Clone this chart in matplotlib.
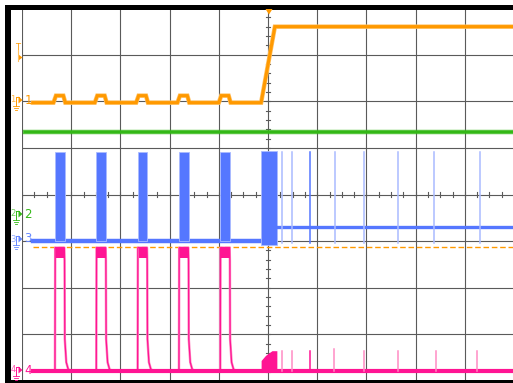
import matplotlib.pyplot as plt
import numpy as np
from matplotlib import patches

pulse_t = [0.67, 1.51, 2.35, 3.19, 4.03]
pulse_w = 0.195
t_start = 0.22

ch1_low, ch1_bump, ch1_high = 1.97, 2.12, 3.60
ch1_rise = [4.86, 5.14]

ch2_level = 1.33

ch3_low, ch3_high, ch3_after = -1.00, 0.92, -0.69
ch3_burst_t = [4.86, 5.18]
ch3_burst = [-1.09, 0.94]
ch3_spikes = [5.28, 5.49, 5.85, 6.36, 6.95, 7.64, 8.37, 9.31]
ch3_spike_lo = -1.05

ch4_low, ch4_high, ch4_shoulder = -3.78, -1.14, -1.42
ch4_tail = [-3.10, -3.60, -3.75, -3.78]
ch4_tail_dt = [0.0, 0.03, 0.07, 0.12]
ch4_burst_t = [4.86, 4.95, 5.08, 5.18]
ch4_burst = [-3.56, -3.45, -3.35, -3.35]
ch4_spikes = [5.28, 5.49, 5.85, 6.34, 6.95, 7.64, 8.42, 9.25]
ch4_spike_top = [-3.35, -3.35, -3.35, -3.31, -3.35, -3.35, -3.35, -3.35]

trig_level = -1.13

ORANGE = "#ff9900"
GREEN = "#33b816"
BLUE = "#5577ff"
LBLUE = "#aabbff"
PINK = "#ff1493"
LPINK = "#ff8cc4"
GRID = "#5a5a5a"

W, H = 513, 383
fig = plt.figure(figsize=(W / 100, H / 100), dpi=100)
fig.patch.set_facecolor("white")
ax = fig.add_axes([22 / W, 2 / H, 492 / W, 373 / H])
ax.set_xlim(0, 10)
ax.set_ylim(-4, 4)
ax.axis("off")

# graticule
for x in range(11):
    ax.plot([x, x], [-4, 4], color=GRID, lw=0.8, zorder=1)
for y in range(-4, 5):
    ax.plot([0, 10], [y, y], color=GRID, lw=0.8, zorder=1)
for x in np.arange(0, 10.01, 0.25):
    ax.plot([x, x], [-0.05, 0.05], color=GRID, lw=0.8, zorder=1)
for y in np.arange(-4, 4.01, 0.2):
    ax.plot([4.95, 5.05], [y, y], color=GRID, lw=0.8, zorder=1)

# channel 2
ax.plot([0.06, 10], [ch2_level, ch2_level], color=GREEN, lw=3.2, alpha=0.8, zorder=3)
ax.plot([0.06, 10], [ch2_level, ch2_level], color=GREEN, lw=1.6, zorder=3)

# channel 1
t1 = [t_start]
v1 = [ch1_low]
for p in pulse_t:
    t1 += [p - 0.03, p + 0.02, p + 0.17, p + 0.21]
    v1 += [ch1_low, ch1_bump, ch1_bump, ch1_low]
t1 += [ch1_rise[0], ch1_rise[1], 10]
v1 += [ch1_low, ch1_high, ch1_high]
ax.plot(t1, v1, color="#ffc060", lw=3.2, zorder=4, solid_joinstyle="miter")
ax.plot(t1, v1, color=ORANGE, lw=2.2, zorder=4, solid_joinstyle="miter")

# channel 3
ax.plot([t_start, ch3_burst_t[0]], [ch3_low, ch3_low], color=BLUE, lw=3.2, zorder=5)
ax.bar(pulse_t, ch3_high - ch3_low, width=pulse_w, bottom=ch3_low, align="edge",
       color=BLUE, edgecolor=LBLUE, lw=0.6, zorder=5)
ax.bar(ch3_burst_t[0], ch3_burst[1] - ch3_burst[0], width=ch3_burst_t[1] - ch3_burst_t[0],
       bottom=ch3_burst[0], align="edge", color=BLUE, edgecolor=LBLUE, lw=0.6, zorder=5)
ax.plot([ch3_burst_t[1], 10], [ch3_after, ch3_after], color=BLUE, lw=2.4, zorder=5)
for i, s in enumerate(ch3_spikes):
    c = BLUE if i == 2 else LBLUE
    ax.plot([s, s], [ch3_spike_lo, ch3_high], color=c, lw=1.1, zorder=5)

# trigger level
ax.plot([t_start, 10], [trig_level, trig_level], color=ORANGE, lw=1.0,
        dashes=(4, 2), zorder=6)

# channel 4
t4 = [t_start]
v4 = [ch4_low]
for p in pulse_t:
    t4 += [p, p + 0.005, p + 0.19, p + 0.195]
    v4 += [ch4_low, ch4_high, ch4_high, ch4_shoulder]
    t4 += [p + 0.2 + d for d in ch4_tail_dt]
    v4 += ch4_tail
t4 += [ch4_burst_t[0]]
v4 += [ch4_low]
ax.plot(t4, v4, color=LPINK, lw=1.8, zorder=7)
ax.plot(t4, v4, color=PINK, lw=0.9, zorder=7)
for p in pulse_t:
    ax.fill_between([p + 0.02, p + 0.19], ch4_shoulder + 0.05, ch4_high, color=PINK, lw=0, zorder=7)
ax.fill_between(ch4_burst_t, ch4_low, ch4_burst, color=PINK, lw=0, zorder=7)
ax.plot([t_start, 10], [ch4_low, ch4_low], color=PINK, lw=3.0, zorder=7)
for i, (s, top) in enumerate(zip(ch4_spikes, ch4_spike_top)):
    c = PINK if i == 2 else LPINK
    ax.plot([s, s], [ch4_low, top], color=c, lw=1.1, zorder=7)

# screen decorations in pixel coordinates
ov = fig.add_axes([0, 0, 1, 1], zorder=10)
ov.set_xlim(0, W)
ov.set_ylim(H, 0)
ov.axis("off")
ov.patch.set_alpha(0)
ov.add_patch(patches.Rectangle((5, 5), 6, H, color="black", lw=0))
ov.add_patch(patches.Rectangle((5, 5), W, 4.5, color="black", lw=0))
ov.add_patch(patches.Rectangle((5, 380), W, 5, color="black", lw=0))
ov.add_patch(patches.Polygon([[265.5, 9], [272.5, 9], [269, 14.5]], closed=True,
                             color=ORANGE, lw=0))

# trigger level marker
ov.text(18, 47, "T", color=ORANGE, fontsize=6, ha="center", va="center")
ov.plot([18, 18], [50, 61], color="#ffc060", lw=0.8)
ov.add_patch(patches.Polygon([[18.5, 54.5], [22.5, 57.5], [18.5, 60.5]], closed=True,
                             color=ORANGE, lw=0))

markers = [("1", 100, ORANGE), ("2", 214, GREEN), ("3", 239, "#6688ff"), ("4", 370, PINK)]
for lab, yp, col in markers:
    ov.text(13, yp, lab, color=col, fontsize=6, ha="center", va="center", alpha=0.7)
    ov.plot([16, 16], [yp - 3, yp + 6], color=col, lw=0.7)
    ov.plot([16, 19], [yp - 3, yp - 3], color=col, lw=0.7)
    ov.add_patch(patches.Polygon([[18.5, yp - 3.5], [22.5, yp], [18.5, yp + 3.5]],
                                 closed=True, color=col, lw=0))
    for k, hw in enumerate([3, 2, 1]):
        ov.plot([16 - hw, 16 + hw], [yp + 6 + 2 * k, yp + 6 + 2 * k], color=col, lw=0.6)
    ov.text(28, yp, lab, color=col, fontsize=8.5, ha="center", va="center")

fig.savefig("out.png", dpi=100)
